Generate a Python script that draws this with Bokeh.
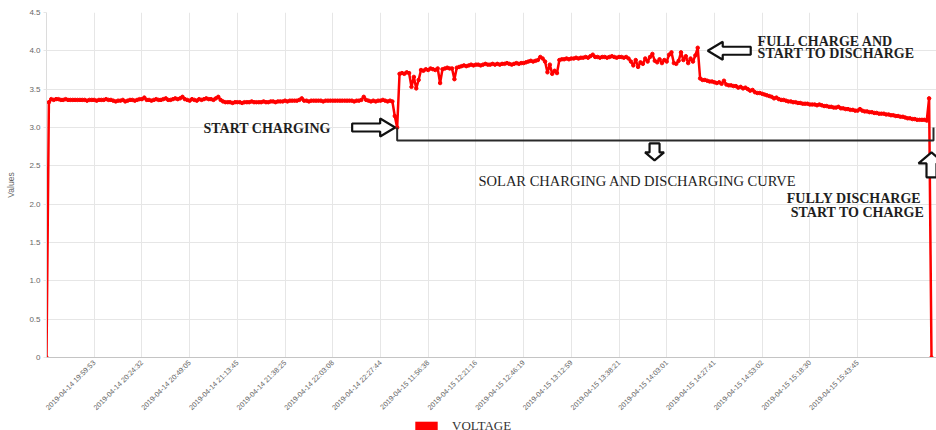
import math
from bokeh.plotting import figure
from bokeh.layouts import column
from bokeh.models import Range1d, FixedTicker, Label, PolyAnnotation, Legend, LegendItem
from bokeh.embed import file_html
from bokeh.resources import INLINE

# ---------------- data ----------------
volts_evening = [
    0, 3.33, 3.37, 3.36, 3.37, 3.37, 3.36, 3.36, 3.37, 3.36,
    3.36, 3.36, 3.36, 3.36, 3.36, 3.36, 3.36, 3.35, 3.36, 3.36,
    3.36, 3.35, 3.36, 3.36, 3.36, 3.37, 3.36, 3.36, 3.35, 3.34,
    3.35, 3.35, 3.36, 3.34, 3.35, 3.36, 3.36, 3.35, 3.36, 3.37,
    3.37, 3.39, 3.36, 3.36, 3.35, 3.36, 3.37, 3.36, 3.36, 3.37,
    3.38, 3.36, 3.36, 3.37, 3.38, 3.37, 3.38, 3.40, 3.37, 3.36,
    3.35, 3.37, 3.36, 3.35, 3.37, 3.36, 3.37, 3.38, 3.37, 3.37,
    3.36, 3.38, 3.40, 3.36, 3.34, 3.33, 3.33, 3.33, 3.32, 3.33,
    3.33, 3.33, 3.32, 3.33, 3.33, 3.33, 3.34, 3.33, 3.33, 3.33,
    3.33, 3.34, 3.33, 3.33, 3.34, 3.34, 3.33, 3.34, 3.34, 3.34,
    3.35, 3.34, 3.35, 3.35, 3.35, 3.35, 3.36, 3.38, 3.35, 3.35,
    3.34, 3.35, 3.35, 3.35, 3.35, 3.35, 3.34, 3.35, 3.35, 3.35,
    3.35, 3.35, 3.35, 3.35, 3.35, 3.35, 3.35, 3.35, 3.35, 3.34,
    3.35, 3.35, 3.36, 3.40, 3.36, 3.35, 3.34, 3.35, 3.34, 3.35,
    3.35, 3.36, 3.35, 3.34, 3.35, 3.34, 3.15, 3.00,
]
volts_charging = [
    3.70, 3.71,
    3.70, 3.72, 3.71, 3.53, 3.66, 3.51, 3.62, 3.75, 3.74, 3.76,
    3.75, 3.77, 3.76, 3.75, 3.77, 3.58, 3.76, 3.77, 3.78, 3.77,
    3.77, 3.63, 3.78, 3.79, 3.80, 3.81, 3.80, 3.81, 3.82, 3.81,
    3.82, 3.82, 3.81, 3.82, 3.83, 3.82, 3.82, 3.83, 3.82, 3.83,
    3.82, 3.83, 3.83, 3.84, 3.83, 3.82, 3.83, 3.84, 3.83, 3.84,
    3.84, 3.85, 3.86, 3.87, 3.86, 3.87, 3.88, 3.92, 3.90, 3.86,
    3.72, 3.82, 3.70, 3.74, 3.71, 3.88, 3.89, 3.89, 3.90, 3.89,
    3.90, 3.90, 3.91, 3.90, 3.91, 3.91, 3.92, 3.91, 3.93, 3.95,
    3.92, 3.92, 3.91, 3.92, 3.92, 3.91, 3.92, 3.93, 3.92, 3.91,
    3.92, 3.92, 3.91, 3.92, 3.90, 3.86, 3.81, 3.88, 3.79, 3.85,
    3.83, 3.90, 3.86, 3.92, 3.96, 3.87, 3.85, 3.89, 3.84, 3.88,
    3.86, 3.95, 3.98, 3.84, 3.83, 3.87, 3.98, 3.88, 3.93, 3.84,
    3.90, 3.86, 3.94, 4.04,
]
volts_discharging = [
    3.64, 3.62, 3.62, 3.61, 3.60, 3.60,
    3.59, 3.58, 3.59, 3.57, 3.61, 3.56, 3.55, 3.55, 3.54, 3.54,
    3.52, 3.53, 3.51, 3.52, 3.50, 3.48, 3.49, 3.46, 3.45, 3.45,
    3.44, 3.43, 3.42, 3.41, 3.40, 3.38, 3.39, 3.37, 3.36, 3.36,
    3.35, 3.34, 3.34, 3.33, 3.33, 3.32, 3.32, 3.31, 3.31, 3.31,
    3.30, 3.30, 3.30, 3.29, 3.30, 3.29, 3.28, 3.28, 3.27, 3.27,
    3.26, 3.26, 3.27, 3.25, 3.25, 3.24, 3.24, 3.23, 3.23, 3.22,
    3.22, 3.24, 3.22, 3.21, 3.21, 3.20, 3.20, 3.19, 3.19, 3.18,
    3.18, 3.18, 3.17, 3.17, 3.16, 3.16, 3.15, 3.15, 3.14, 3.14,
    3.13, 3.12, 3.12, 3.11, 3.11, 3.10, 3.10, 3.10, 3.10, 3.09,
    3.38, 0,
]

tick_idx = [20, 40, 60, 80, 100, 120, 140, 160, 180, 200,
            220, 240, 260, 280, 300, 320, 340]
tick_labels = [
    "2019-04-14 19:59:53", "2019-04-14 20:24:32", "2019-04-14 20:49:05",
    "2019-04-14 21:13:45", "2019-04-14 21:38:25", "2019-04-14 22:03:08",
    "2019-04-14 22:27:44", "2019-04-15 11:56:38", "2019-04-15 12:21:16",
    "2019-04-15 12:46:19", "2019-04-15 13:12:59", "2019-04-15 13:38:21",
    "2019-04-15 14:03:01", "2019-04-15 14:27:41", "2019-04-15 14:53:02",
    "2019-04-15 15:18:30", "2019-04-15 15:43:45",
]
y_ticks = [0, 0.5, 1.0, 1.5, 2.0, 2.5, 3.0, 3.5, 4.0, 4.5]
y_tick_labels = ["0", "0.5", "1.0", "1.5", "2.0", "2.5", "3.0", "3.5", "4.0", "4.5"]

series_name = "VOLTAGE"

# ---------------- layout ----------------
volts = volts_evening + volts_charging + volts_discharging
n = len(volts)
idx = list(range(n))

W = 936
H_MAIN, H_LEG = 418, 12
ML, MR, MT, MB = 46, 0, 12, 60
FW = W - ML - MR
FH = H_MAIN - MT - MB
END_GAP = 5  # px between last sample and right edge of frame
x_end = (n - 1) * FW / (FW - END_GAP)
Y_MAX = 4.5
PXX = FW / x_end     # px per sample
PXY = FH / Y_MAX     # px per volt

p = figure(width=W, height=H_MAIN, x_range=Range1d(0, x_end), y_range=Range1d(0, Y_MAX),
           output_backend="svg", toolbar_location=None,
           min_border_left=ML, min_border_right=MR, min_border_top=MT, min_border_bottom=MB)
p.outline_line_color = None
p.background_fill_color = "white"
p.border_fill_color = "white"

GRID = "#e6e6e6"
TXT = "#666666"

p.xaxis.ticker = FixedTicker(ticks=tick_idx)
p.xaxis.major_label_overrides = dict(zip(tick_idx, tick_labels))
p.xaxis.major_label_orientation = math.pi / 4
p.xaxis.major_label_text_font = "Liberation Sans"
p.xaxis.major_label_text_font_size = "7.2px"
p.xaxis.major_label_text_color = TXT
p.xaxis.major_label_standoff = 4
p.xaxis.major_tick_out = 0
p.xaxis.major_tick_in = 0
p.xaxis.minor_tick_out = 0
p.xaxis.minor_tick_in = 0
p.xaxis.axis_line_color = "#c4c4c4"
p.xgrid.ticker = FixedTicker(ticks=tick_idx)
p.xgrid.grid_line_color = GRID

p.yaxis.ticker = FixedTicker(ticks=y_ticks)
p.yaxis.major_label_overrides = dict(zip(y_ticks, y_tick_labels))
p.yaxis.major_label_text_font = "Liberation Sans"
p.yaxis.major_label_text_font_size = "8px"
p.yaxis.major_label_text_color = TXT
p.yaxis.major_label_standoff = 3
p.yaxis.major_tick_out = 3
p.yaxis.major_tick_in = 0
p.yaxis.major_tick_line_color = GRID
p.yaxis.minor_tick_out = 0
p.yaxis.minor_tick_in = 0
p.yaxis.axis_line_color = "#dcdcdc"
p.yaxis.axis_label = "Values"
p.yaxis.axis_label_text_font = "Liberation Sans"
p.yaxis.axis_label_text_font_size = "8.5px"
p.yaxis.axis_label_text_font_style = "normal"
p.yaxis.axis_label_text_color = TXT
p.yaxis.axis_label_standoff = 10
p.ygrid.grid_line_color = GRID

# ---------------- series ----------------
RED = "#ff0000"
p.line(idx, volts, line_color=RED, line_width=2.5)
p.scatter(idx, volts, size=3.5, color=RED)

# ---------------- annotations ----------------
INK = "#1e1e1e"
interior = volts[1:-1]
dip_i = 1 + interior.index(min(interior))
dip_v = volts[dip_i]
peak_i = volts.index(max(volts))
peak_v = volts[peak_i]
BRACKET_V = dip_v - 13 / PXY
right_x = (n - 1) + 2 / PXX

p.line([dip_i, dip_i, right_x, right_x], [dip_v, BRACKET_V, BRACKET_V, dip_v],
       line_color="#2a2a2a", line_width=2)


def block_arrow(tx, ty, direction, length, head_len, head_half, body_half):
    ux, uy = {"right": (-1, 0), "left": (1, 0), "down": (0, -1), "up": (0, 1)}[direction]
    vx, vy = -uy, ux
    local = [(0, 0), (head_len, head_half), (head_len, body_half), (length, body_half),
             (length, -body_half), (head_len, -body_half), (head_len, -head_half)]
    xs, ys = [], []
    for a, b in local:
        ox = a * ux + b * vx
        oy = a * uy + b * vy
        xs.append(tx + ox / PXX)
        ys.append(ty - oy / PXY)
    return PolyAnnotation(xs=xs, ys=ys, fill_color="white", fill_alpha=1.0,
                          line_color="#111111", line_alpha=1.0, line_width=2.2)


p.add_layout(block_arrow(dip_i - 2 / PXX, dip_v, "right", 43, 15, 9, 4))
p.add_layout(block_arrow(peak_i + 10 / PXX, peak_v - 3 / PXY, "left", 43, 15, 9, 4))
p.add_layout(block_arrow(254.9, BRACKET_V - 20 / PXY, "down", 17, 8, 9.5, 5))
p.add_layout(block_arrow(n - 1, BRACKET_V - 12 / PXY, "up", 25, 11, 13, 5))


def note(x, y, text, bold=True, align="left", size="14px"):
    p.add_layout(Label(x=x, y=y, text=text, text_font="Liberation Serif",
                       text_font_style="bold" if bold else "normal",
                       text_font_size=size, text_color=INK,
                       text_align=align, text_baseline="middle"))


note(65.8, 2.99, "START CHARGING")
note(298.1, 4.123, "FULL CHARGE AND")
note(298.1, 3.960, "START TO DISCHARGE")
note(181.1, 2.302, "SOLAR CHARGING AND DISCHARGING CURVE", bold=False, size="14.5px")
note(338.5, 2.068, "FULLY DISCHARGE", align="center")
note(340.0, 1.892, "START TO CHARGE", align="center")

# ---------------- legend strip (bottom, cut off like the original) ----------------
leg = figure(width=W, height=H_LEG, x_range=Range1d(0, 1), y_range=Range1d(0, 1),
             output_backend="svg", toolbar_location=None,
             x_axis_location=None, y_axis_location=None,
             min_border_left=0, min_border_right=0, min_border_top=0, min_border_bottom=0)
leg.outline_line_color = None
leg.xgrid.visible = False
leg.ygrid.visible = False
# zero-size swatch renderer: only its legend entry is visible
swatch = leg.quad(left=[0], right=[0], bottom=[0], top=[0],
                  fill_color=RED, line_color=RED, line_width=0)
legend = Legend(items=[LegendItem(label=series_name, renderers=[swatch])],
                location=(366, -4), orientation="horizontal",
                padding=0, margin=0, spacing=0, border_line_color=None,
                background_fill_alpha=0, glyph_width=28, glyph_height=12,
                label_standoff=12, label_text_font="Liberation Serif",
                label_text_font_size="13px", label_text_color="#333333")
leg.add_layout(legend)

open("out.html", "w").write(file_html(column(p, leg, spacing=0), INLINE))
